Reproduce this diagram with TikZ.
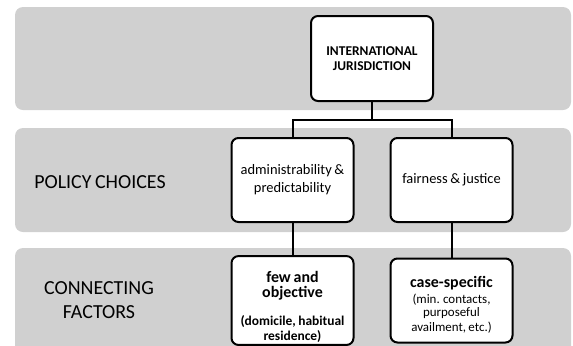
\documentclass[tikz,border=0pt]{standalone}
\usepackage{fontspec}
\setmainfont{Carlito}[WordSpace=0.8]
\usetikzlibrary{positioning}
\definecolor{bandgray}{RGB}{208,208,208}
\newcommand*{\fsize}[2]{\fontsize{#1}{#2}\selectfont}

\begin{document}
\begin{tikzpicture}[
        x=1bp, y=-1bp, node distance=1cm, on grid,
        band/.style={fill=bandgray, rounded corners=8bp},
        box/.style={draw, fill=white, line width=2bp, rounded corners=7bp,
          minimum width=121bp, minimum height=84bp, inner sep=2bp,
          align=flush center, text width=118bp},
        rowlabel/.style={align=center, font=\fsize{20}{24}},
        link/.style={line width=2bp},
        ]
        \useasboundingbox (0,0) rectangle (573,345);
        % the three bands
        \fill[band] (15,7) rectangle (571,110);
        \fill[band] (15,128) rectangle (571,232);
        \fill[band] (15,248) rectangle (571,370);

        \node[rowlabel] (policy) at (100,182) {POLICY CHOICES};
        \node[rowlabel] (factors) at (99,300) {CONNECTING\\FACTORS};

        \node[box, minimum height=85bp, font=\fsize{13.5}{15}\bfseries] (intl) at (372,58.5)
          {INTERNATIONAL\\JURISDICTION};
        \node[box, font=\fsize{14.5}{18}] (admin) at (292.5,180)
          {administrability \&\\predictability};
        \node[box, right=159bp of admin, font=\fsize{14.5}{18}] (fair)
          {fairness \& justice};
        \node[box, below=120.5bp of admin, font=\fsize{16}{15}\bfseries] (few)
          {\rule{0pt}{24bp}few and\\objective\\[16bp]{\fsize{13.5}{13}(domicile, habitual\\residence)}};
        \node[box, below=120.5bp of fair, font=\fsize{16}{15}\bfseries] (case)
          {\rule{0pt}{20bp}case-specific\\[2.5bp]{\fsize{13}{13.5}\mdseries (min. contacts,\\purposeful\\availment, etc.)}};

        \draw[link] (intl.south) -- ++(0,18) -| (admin.north);
        \draw[link] (intl.south) -- ++(0,18) -| (fair.north);
        \draw[link] (admin) -- (few);
        \draw[link] (fair) -- (case);
      \end{tikzpicture}
\end{document}
